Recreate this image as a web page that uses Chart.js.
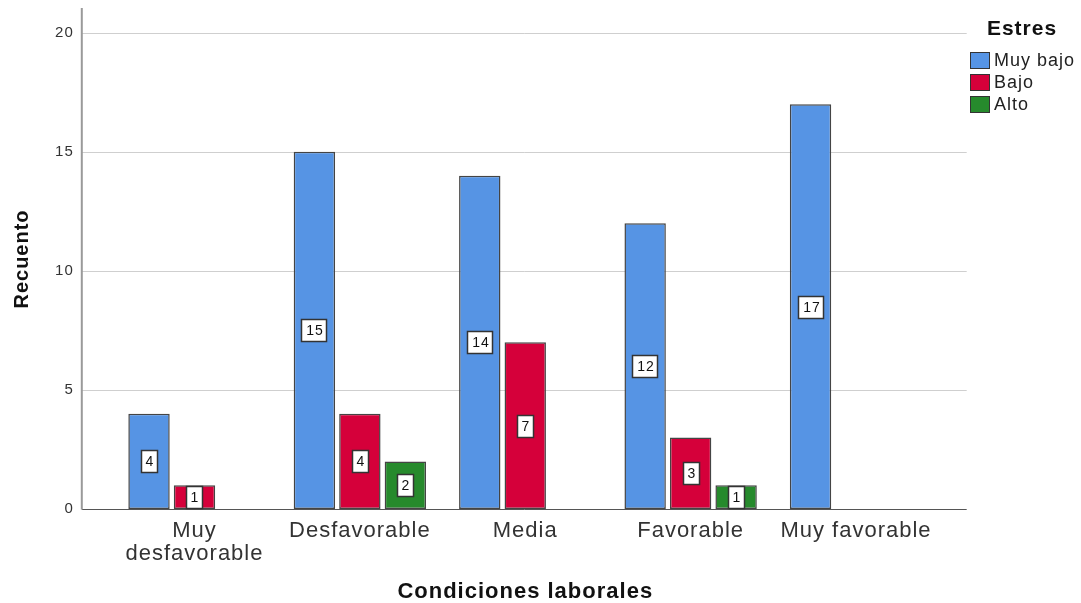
<!DOCTYPE html>
<html>
<head>
<meta charset="utf-8">
<script src="https://cdn.jsdelivr.net/npm/chart.js@4/dist/chart.umd.min.js"></script>
<style>
  html, body { margin: 0; padding: 0; background: #ffffff; }
  #wrap { width: 1081px; height: 603px; }
</style>
</head>
<body>
<div id="wrap"><canvas id="c" width="1081" height="603"></canvas></div>
<script>
// Counts per working-condition category, split by stress level
const categories = [["Muy", "desfavorable"], "Desfavorable", "Media", "Favorable", "Muy favorable"];
const seriesNames = ["Muy bajo", "Bajo", "Alto"];
const muyBajo = [4, 15, 14, 12, 17];
const bajo = [1, 4, 7, 3, null];
const alto = [null, 2, null, 1, null];
const yTicks = [0, 5, 10, 15, 20];
const yMax = 21;

const seriesColors = ["#5694e4", "#d5003a", "#268a2c"];
const FONT = "'Liberation Sans', Arial, sans-serif";

// SPSS-like text tracking
function applySpacing(chart) {
  try { chart.ctx.letterSpacing = "1px"; } catch (e) {}
}

// Horizontal grid lines and y axis line, reaching a little past the bar area
const framePlugin = {
  id: "frame",
  beforeUpdate: applySpacing,
  beforeDraw: applySpacing,
  beforeDatasetsDraw(chart) {
    const { ctx, chartArea } = chart;
    const y = chart.scales.y;
    const x0 = chartArea.left - 30;
    const x1 = chartArea.right + 28;
    ctx.save();
    y.ticks.forEach(t => {
      const py = Math.round(y.getPixelForValue(t.value)) + 0.5;
      ctx.beginPath();
      ctx.moveTo(x0, py);
      ctx.lineTo(x1, py);
      ctx.lineWidth = 1;
      ctx.strokeStyle = t.value === 0 ? "#555555" : "#cfcfcf";
      ctx.stroke();
    });
    ctx.beginPath();
    ctx.moveTo(x0, chartArea.top - 1);
    ctx.lineTo(x0, y.getPixelForValue(0) + 0.5);
    ctx.lineWidth = 2;
    ctx.strokeStyle = "#9a9a9a";
    ctx.stroke();
    ctx.restore();
  }
};

// Boxed value labels at the middle of each bar
const valueLabelPlugin = {
  id: "valueLabels",
  afterDatasetsDraw(chart) {
    const { ctx } = chart;
    ctx.save();
    applySpacing(chart);
    ctx.font = "14px " + FONT;
    ctx.textAlign = "center";
    ctx.textBaseline = "middle";
    chart.data.datasets.forEach((ds, di) => {
      const meta = chart.getDatasetMeta(di);
      meta.data.forEach((el, i) => {
        const v = ds.data[i];
        if (v === null || v === undefined) return;
        const text = String(v);
        const w = Math.round(ctx.measureText(text).width) + 7;
        const h = 22;
        const cx = Math.round(el.x);
        const cy = Math.round((el.y + el.base) / 2);
        const bx = cx - Math.round(w / 2) + 0.5;
        const by = cy - h / 2 + 0.5;
        ctx.fillStyle = "#ffffff";
        ctx.fillRect(bx, by, w, h);
        ctx.lineWidth = 1.5;
        ctx.strokeStyle = "#333333";
        ctx.strokeRect(bx, by, w, h);
        ctx.fillStyle = "#111111";
        ctx.fillText(text, cx + 1, cy + 1);
      });
    });
    ctx.restore();
  }
};

// Legend block on the right
const legendPlugin = {
  id: "sideLegend",
  afterDraw(chart) {
    const { ctx } = chart;
    ctx.save();
    applySpacing(chart);
    ctx.fillStyle = "#111111";
    ctx.font = "bold 21px " + FONT;
    ctx.textAlign = "center";
    ctx.textBaseline = "middle";
    ctx.fillText("Estres", 1022, 29);
    ctx.font = "18px " + FONT;
    ctx.textAlign = "left";
    chart.data.datasets.forEach((ds, i) => {
      const top = 52 + i * 22;
      ctx.fillStyle = ds.backgroundColor;
      ctx.fillRect(970.5, top + 0.5, 19, 16);
      ctx.lineWidth = 1;
      ctx.strokeStyle = "#333333";
      ctx.strokeRect(970.5, top + 0.5, 19, 16);
      ctx.fillStyle = "#222222";
      ctx.fillText(ds.label, 994, top + 9);
    });
    ctx.restore();
  }
};

const seriesData = [muyBajo, bajo, alto];

new Chart(document.getElementById("c"), {
  type: "bar",
  data: {
    labels: categories,
    datasets: seriesNames.map((name, i) => ({
      label: name,
      data: seriesData[i],
      backgroundColor: seriesColors[i],
      borderColor: "#444444",
      borderWidth: 1.5,
      borderSkipped: false,
      categoryPercentage: 0.825,
      barPercentage: 0.91
    }))
  },
  options: {
    responsive: false,
    maintainAspectRatio: false,
    devicePixelRatio: 1,
    animation: false,
    layout: { padding: { left: 0, right: 142.3, top: 9, bottom: 0 } },
    plugins: {
      legend: { display: false },
      tooltip: { enabled: false }
    },
    scales: {
      x: {
        offset: true,
        grid: { display: false, drawTicks: false },
        border: { display: false },
        ticks: {
          padding: 10,
          color: "#333333",
          autoSkip: false,
          maxRotation: 0,
          font: { family: FONT, size: 22, lineHeight: 1.05 }
        },
        title: {
          display: true,
          text: "Condiciones laborales",
          color: "#111111",
          padding: { top: 0, bottom: 0 },
          font: { family: FONT, size: 22, weight: "bold", lineHeight: 1 }
        },
        afterFit(s) { s.height = 94; s.paddingLeft = 0; s.paddingRight = 0; }
      },
      y: {
        min: 0,
        max: yMax,
        afterBuildTicks(s) { s.ticks = yTicks.map(v => ({ value: v })); },
        grid: { display: false, drawTicks: false },
        border: { display: false },
        ticks: {
          padding: 38,
          color: "#333333",
          font: { family: FONT, size: 15 }
        },
        title: {
          display: true,
          text: "Recuento",
          color: "#111111",
          padding: { top: 12, bottom: 0 },
          font: { family: FONT, size: 20, weight: "bold", lineHeight: 1 }
        },
        afterFit(s) { s.width = 111.8; s.paddingTop = 0; s.paddingBottom = 0; }
      }
    }
  },
  plugins: [framePlugin, valueLabelPlugin, legendPlugin]
});
</script>
</body>
</html>
